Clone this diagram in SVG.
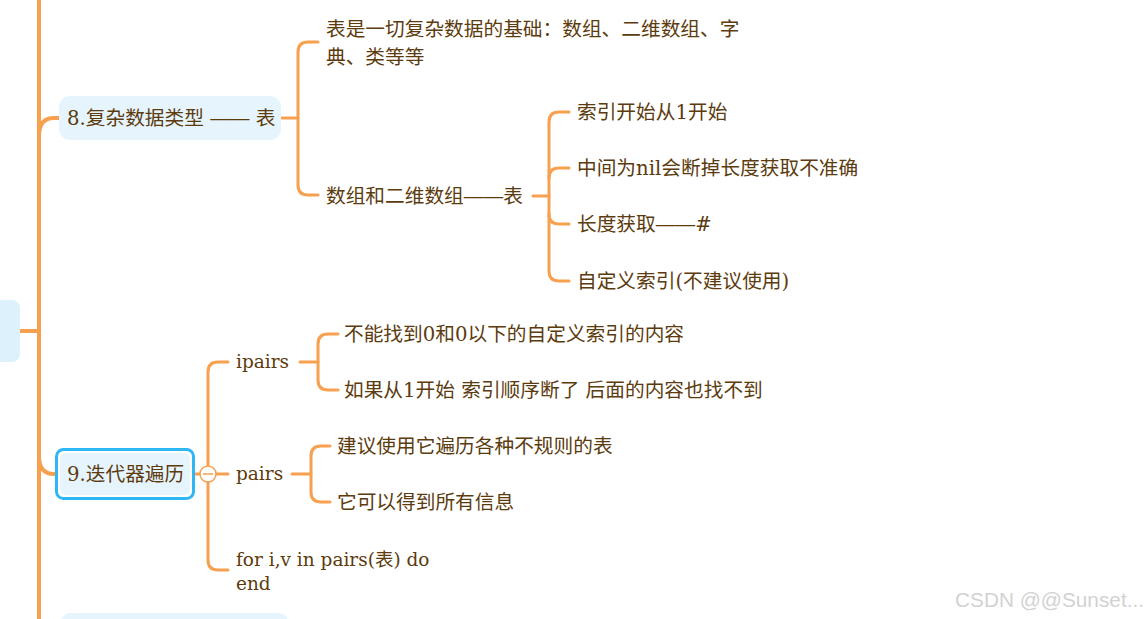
<svg xmlns="http://www.w3.org/2000/svg" width="1148" height="619" viewBox="0 0 1148 619">
<style>
.ln{fill:none;stroke:#F7A04F;stroke-width:3;stroke-linecap:round}
.tr{fill:none;stroke:#F7A04F;stroke-width:4}
.t{font-family:"DejaVu Serif","Noto Sans CJK SC",serif;font-size:19.7px;fill:#5C3B0E}
.l{font-family:"DejaVu Serif","Noto Sans CJK SC",serif;font-size:18.5px;fill:#5C3B0E}
.d{font-family:"Liberation Sans",sans-serif}
.nb{fill:#E6F5FD}
</style>
<rect width="1148" height="619" fill="#ffffff"/>
<g id="connectors">
<line class="tr" x1="39" y1="0" x2="39" y2="619"/>
<line class="tr" x1="20" y1="331" x2="39" y2="331"/>
<path class="tr" d="M39 136 Q39 118 54 118 L60 118"/>
<path class="tr" d="M39 456 Q39 474 54 474 L56 474"/>
<path class="ln" d="M282 118 L298 118"/>
<path class="ln" d="M318 42 L308 42 Q298 42 298 52 L298 185 Q298 195 308 195 L318 195"/>
<path class="ln" d="M533 196 L549 196"/>
<path class="ln" d="M569 112 L559 112 Q549 112 549 122 L549 271 Q549 281 559 281 L569 281"/>
<path class="ln" d="M549 178 Q549 168 559 168 L569 168"/>
<path class="ln" d="M549 214 Q549 224 559 224 L569 224"/>
<path class="ln" d="M195 474 L200 474"/>
<path class="ln" d="M216 474 L228 474"/>
<path class="ln" d="M228 362 L218 362 Q208 362 208 372 L208 466"/>
<path class="ln" d="M208 482 L208 560 Q208 570 218 570 L228 570"/>
<path class="ln" d="M300 362 L318 362"/>
<path class="ln" d="M338 334 L328 334 Q318 334 318 344 L318 380 Q318 390 328 390 L338 390"/>
<path class="ln" d="M292 474 L311 474"/>
<path class="ln" d="M330 446 L321 446 Q311 446 311 456 L311 492 Q311 502 321 502 L330 502"/>
<circle cx="208" cy="474" r="8" fill="#ffffff" stroke="#F7A04F" stroke-width="1.5"/>
<line x1="203" y1="474" x2="213" y2="474" stroke="#F7A04F" stroke-width="1.5"/>
</g>
<g id="node-left">
<rect x="-10" y="300" width="30" height="62" rx="8" fill="#DDF1FC"/>
</g>
<g id="node8">
<rect class="nb" x="59" y="96" width="222" height="44" rx="11"/>
<text class="t" x="67" y="125">8.复杂数据类型 <tspan class="d">——</tspan> 表</text>
</g>
<g id="n8a">
<text class="t" x="326" y="36">表是一切复杂数据的基础：数组、二维数组、字</text>
<text class="t" x="326" y="64">典、类等等</text>
</g>
<g id="n8b"><text class="t" x="326" y="203">数组和二维数组<tspan class="d">——</tspan>表</text></g>
<g id="n8b1"><text class="t" x="577" y="119">索引开始从1开始</text></g>
<g id="n8b2"><text class="t" x="577" y="175">中间为nil会断掉长度获取不准确</text></g>
<g id="n8b3"><text class="t" x="577" y="231">长度获取<tspan class="d">——</tspan>#</text></g>
<g id="n8b4"><text class="t" x="577" y="288">自定义索引(不建议使用)</text></g>
<g id="node9">
<rect x="56.5" y="449.5" width="137" height="49" rx="7" fill="#ffffff" stroke="#2DB7F5" stroke-width="3"/>
<rect class="nb" x="60" y="453" width="130" height="42" rx="6"/>
<text class="t" x="67" y="481">9.迭代器遍历</text>
</g>
<g id="ipairs"><text class="l" x="236" y="368">ipairs</text></g>
<g id="ip1"><text class="t" x="344" y="341">不能找到0和0以下的自定义索引的内容</text></g>
<g id="ip2"><text class="t" x="344" y="397">如果从1开始 索引顺序断了 后面的内容也找不到</text></g>
<g id="pairs"><text class="l" x="236" y="480">pairs</text></g>
<g id="p1"><text class="t" x="337" y="453">建议使用它遍历各种不规则的表</text></g>
<g id="p2"><text class="t" x="337" y="509">它可以得到所有信息</text></g>
<g id="forloop">
<text class="l" x="236" y="566">for i,v in pairs(表) do</text>
<text class="l" x="236" y="590">end</text>
</g>
<g id="node-bottom">
<rect class="nb" x="60" y="613" width="229" height="30" rx="11"/>
</g>
<text x="955" y="607" font-family="Liberation Sans, Arial, sans-serif" font-size="20.8" fill="#D2D2D2">CSDN @@Sunset...</text>
</svg>
